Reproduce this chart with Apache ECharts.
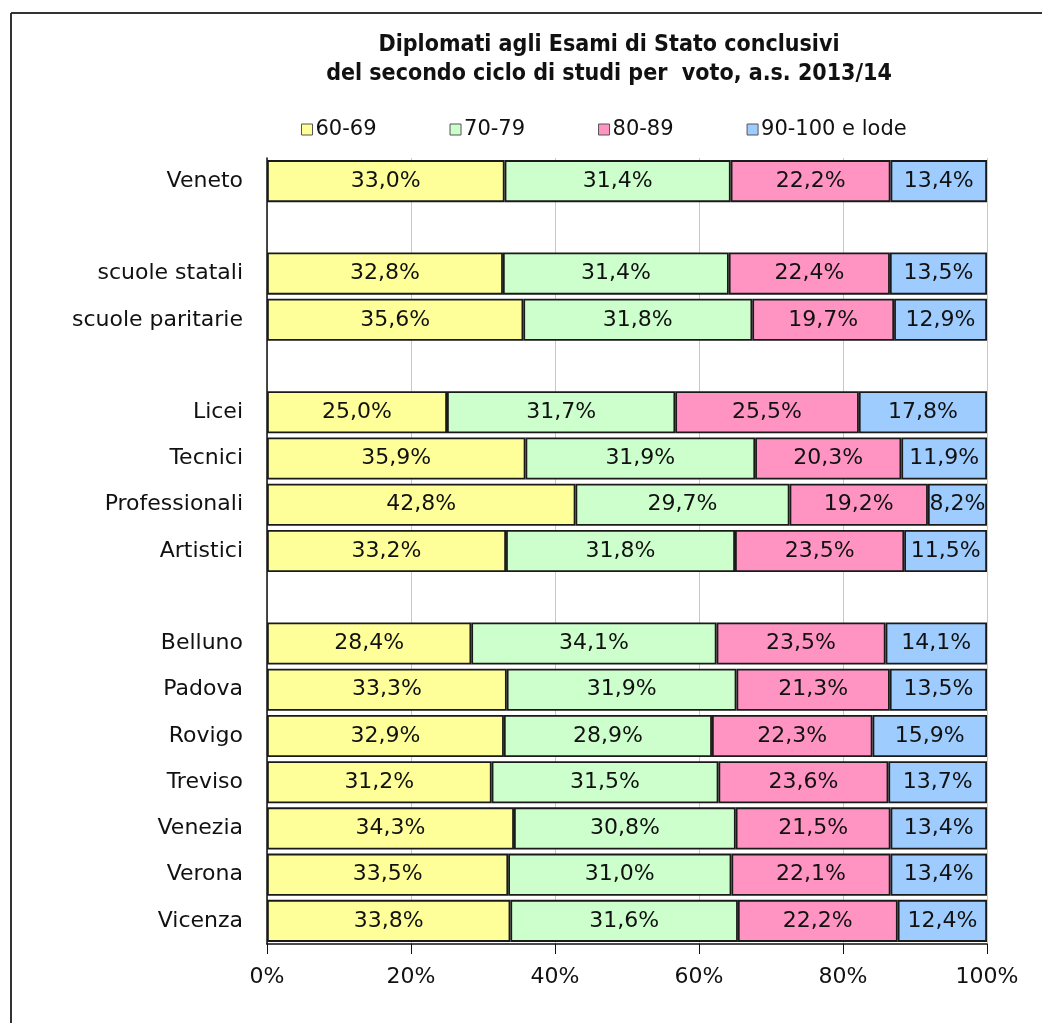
<!DOCTYPE html>
<html>
<head>
<meta charset="utf-8">
<script src="https://cdn.jsdelivr.net/npm/echarts@6/dist/echarts.min.js"></script>
<style>
  html, body { margin: 0; padding: 0; background: #fff; }
  #chart { width: 1042px; height: 1023px; }
</style>
</head>
<body>
<div id="chart"></div>
<script>
// righe dall'alto in basso; le stringhe vuote sono le righe di separazione
var categorie = ['Veneto', ' ', 'scuole statali', 'scuole paritarie', '  ',
    'Licei', 'Tecnici', 'Professionali', 'Artistici', '   ',
    'Belluno', 'Padova', 'Rovigo', 'Treviso', 'Venezia', 'Verona', 'Vicenza'];
var fasce = ['60-69', '70-79', '80-89', '90-100 e lode'];
var voto60 = [33.0, null, 32.8, 35.6, null, 25.0, 35.9, 42.8, 33.2, null, 28.4, 33.3, 32.9, 31.2, 34.3, 33.5, 33.8];
var voto70 = [31.4, null, 31.4, 31.8, null, 31.7, 31.9, 29.7, 31.8, null, 34.1, 31.9, 28.9, 31.5, 30.8, 31.0, 31.6];
var voto80 = [22.2, null, 22.4, 19.7, null, 25.5, 20.3, 19.2, 23.5, null, 23.5, 21.3, 22.3, 23.6, 21.5, 22.1, 22.2];
var voto90 = [13.4, null, 13.5, 12.9, null, 17.8, 11.9, 8.2, 11.5, null, 14.1, 13.5, 15.9, 13.7, 13.4, 13.4, 12.4];
var tickAsse = [0, 20, 40, 60, 80, 100];
var colori = ['#ffff99', '#ccffcc', '#ff94c2', '#9fccff'];

window.onload = function () {
    var chartDom = document.getElementById('chart');
    var myChart = echarts.init(chartDom, null, { renderer: 'canvas' });
    var serie = [voto60, voto70, voto80, voto90];

    // grafico al 100%: ogni riga viene riportata a somma 100
    var somme = categorie.map(function (c, i) {
        var s = 0;
        serie.forEach(function (arr) { if (arr[i] != null) s += arr[i]; });
        return s;
    });

    var series = serie.map(function (arr, k) {
        return {
            name: fasce[k],
            type: 'bar',
            stack: 'tot',
            barCategoryGap: '9%',
            data: arr.map(function (v, i) {
                return v == null ? null : { value: v / somme[i] * 100, raw: v };
            }),
            itemStyle: {
                color: colori[k],
                borderColor: '#1a1a1a',
                borderWidth: 1.8
            },
            label: {
                show: true,
                position: 'inside',
                color: '#111',
                fontFamily: 'DejaVu Sans',
                fontSize: 22,
                formatter: function (p) {
                    return p.data.raw.toFixed(1).replace('.', ',') + '%';
                }
            }
        };
    });

    var option = {
        animation: false,
        backgroundColor: '#fff',
        title: {
            text: 'Diplomati agli Esami di Stato conclusivi\ndel secondo ciclo di studi per  voto, a.s. 2013/14',
            left: 604,
            top: 26,
            textAlign: 'center',
            textStyle: {
                fontFamily: 'DejaVu Sans Condensed',
                fontWeight: 'bold',
                fontSize: 23,
                lineHeight: 29,
                color: '#111'
            }
        },
        legend: {
            data: fasce,
            left: 296,
            top: 114,
            icon: 'rect',
            itemWidth: 11,
            itemHeight: 11,
            itemGap: 73,
            itemStyle: { borderColor: '#555', borderWidth: 1 },
            textStyle: {
                fontFamily: 'DejaVu Sans',
                fontSize: 21,
                color: '#111',
                padding: [0, 0, 0, -2]
            }
        },
        grid: {
            left: 267,
            right: 55,
            top: 158,
            bottom: 79
        },
        xAxis: {
            type: 'value',
            min: tickAsse[0],
            max: tickAsse[tickAsse.length - 1],
            interval: 20,
            axisLine: { show: true, lineStyle: { color: '#111', width: 1.5 } },
            axisTick: { show: true, length: 10, lineStyle: { color: '#111' } },
            splitLine: { show: true, lineStyle: { color: '#c8c8c8', width: 1 } },
            axisLabel: {
                formatter: '{value}%',
                margin: 22,
                fontFamily: 'DejaVu Sans',
                fontSize: 22,
                color: '#111'
            }
        },
        yAxis: {
            type: 'category',
            inverse: true,
            data: categorie,
            axisLine: { show: true, lineStyle: { color: '#111', width: 1.5 } },
            axisTick: { show: false },
            axisLabel: {
                margin: 24,
                fontFamily: 'DejaVu Sans',
                fontSize: 22,
                color: '#111'
            }
        },
        graphic: [
            {
                type: 'line',
                shape: { x1: 11, y1: 13, x2: 1042, y2: 13 },
                style: { stroke: '#333', lineWidth: 2 }
            },
            {
                type: 'line',
                shape: { x1: 11, y1: 13, x2: 11, y2: 1023 },
                style: { stroke: '#333', lineWidth: 2 }
            }
        ],
        series: series
    };

    option && myChart.setOption(option);
};
</script>
</body>
</html>
